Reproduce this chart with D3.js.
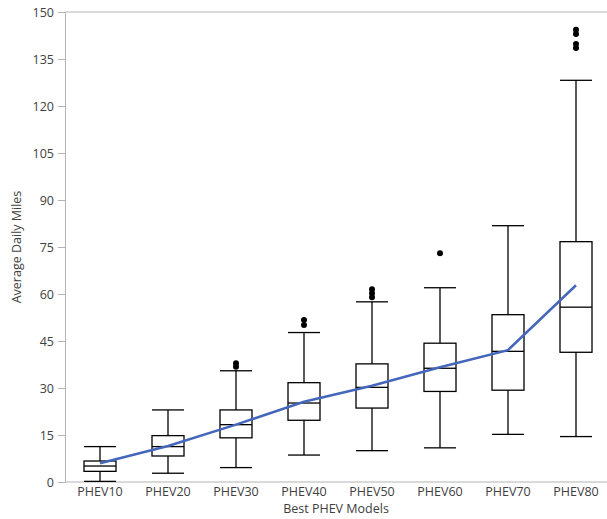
<!DOCTYPE html>
<html><head><meta charset="utf-8">
<script src="https://cdn.jsdelivr.net/npm/d3@7"></script>
<style>body{margin:0;background:#fff;} text{font-family:"Open Sans","Noto Sans",sans-serif;}</style>
</head><body><svg id="c" width="607" height="519"></svg>
<script>
const categories = ["PHEV10","PHEV20","PHEV30","PHEV40","PHEV50","PHEV60","PHEV70","PHEV80"];
const whiskerLow = [0.2, 2.8, 4.6, 8.6, 10.0, 10.9, 15.2, 14.5];
const q1 = [3.4, 8.3, 14.1, 19.7, 23.6, 28.9, 29.3, 41.4];
const median = [5.1, 11.3, 18.3, 25.2, 30.2, 36.3, 41.7, 55.8];
const q3 = [6.7, 14.8, 23.0, 31.7, 37.7, 44.3, 53.4, 76.7];
const whiskerHigh = [11.3, 23.0, 35.5, 47.7, 57.5, 62.0, 81.8, 128.2];
const means = [6.0, 11.5, 18.3, 25.6, 30.7, 36.6, 42.1, 62.8];
const outliers = [[], [], [36.8, 37.9], [50.1, 51.7], [59.0, 60.2, 61.5], [73.0], [], [138.5, 139.8, 143.0, 144.3]];
const yTicks = [0,15,30,45,60,75,90,105,120,135,150];

const svg = d3.select("#c");
const x = d3.scaleBand().domain(categories).range([66, 610]);
const y = d3.scaleLinear().domain([0,150]).range([482, 12]);
const axisColor = "#b4b4b4", textColor = "#404040";
const bw = 32;
const fs = "12.5px";

// y axis
const ya = svg.append("g").attr("transform","translate(65,0)")
  .call(d3.axisLeft(y).tickValues(yTicks).tickSize(7).tickPadding(4).tickSizeOuter(0));
ya.select(".domain").attr("stroke", axisColor);
ya.selectAll(".tick line").attr("stroke", axisColor);
ya.selectAll(".tick text").attr("fill", textColor).style("font-size",fs).style("font-family","'Open Sans','Noto Sans',sans-serif");

// x axis
const xa = svg.append("g").attr("transform","translate(0,482)")
  .call(d3.axisBottom(x).tickSize(0).tickPadding(5).tickSizeOuter(0));
xa.select(".domain").remove();
xa.selectAll(".tick text").attr("fill", textColor).style("font-size",fs).style("font-family","'Open Sans','Noto Sans',sans-serif");
svg.append("line").attr("x1",65).attr("x2",607).attr("y1",y(0)).attr("y2",y(0)).attr("stroke",axisColor);
svg.append("line").attr("x1",65).attr("x2",607).attr("y1",y(150)).attr("y2",y(150)).attr("stroke",axisColor);

// boxes
const g = svg.append("g");
categories.forEach((c,i)=>{
  const cx = x(c) + x.bandwidth()/2;
  const gg = g.append("g").attr("stroke","#000").attr("stroke-width",1.3).attr("fill","none");
  gg.append("line").attr("x1",cx).attr("x2",cx).attr("y1",y(whiskerHigh[i])).attr("y2",y(q3[i]));
  gg.append("line").attr("x1",cx).attr("x2",cx).attr("y1",y(q1[i])).attr("y2",y(whiskerLow[i]));
  gg.append("line").attr("x1",cx-bw/2).attr("x2",cx+bw/2).attr("y1",y(whiskerHigh[i])).attr("y2",y(whiskerHigh[i]));
  gg.append("line").attr("x1",cx-bw/2).attr("x2",cx+bw/2).attr("y1",y(whiskerLow[i])).attr("y2",y(whiskerLow[i]));
  gg.append("rect").attr("x",cx-bw/2).attr("width",bw).attr("y",y(q3[i])).attr("height",y(q1[i])-y(q3[i])).attr("fill","#fff");
  gg.append("line").attr("x1",cx-bw/2).attr("x2",cx+bw/2).attr("y1",y(median[i])).attr("y2",y(median[i]));
  outliers[i].forEach(v=>{
    g.append("circle").attr("cx",cx).attr("cy",y(v)).attr("r",3).attr("fill","#000");
  });
});

// mean line
const line = d3.line().x((d,i)=>x(categories[i])+x.bandwidth()/2).y(d=>y(d));
svg.append("path").datum(means).attr("d",line).attr("fill","none").attr("stroke","#4466bb").attr("stroke-width",2.5);

// titles
svg.append("text").attr("x",(65+607)/2).attr("y",513).attr("text-anchor","middle").attr("fill",textColor).style("font-size",fs).text("Best PHEV Models");
svg.append("text").attr("transform","translate(21,247) rotate(-90)").attr("text-anchor","middle").attr("fill",textColor).style("font-size",fs).text("Average Daily Miles");
</script></body></html>
